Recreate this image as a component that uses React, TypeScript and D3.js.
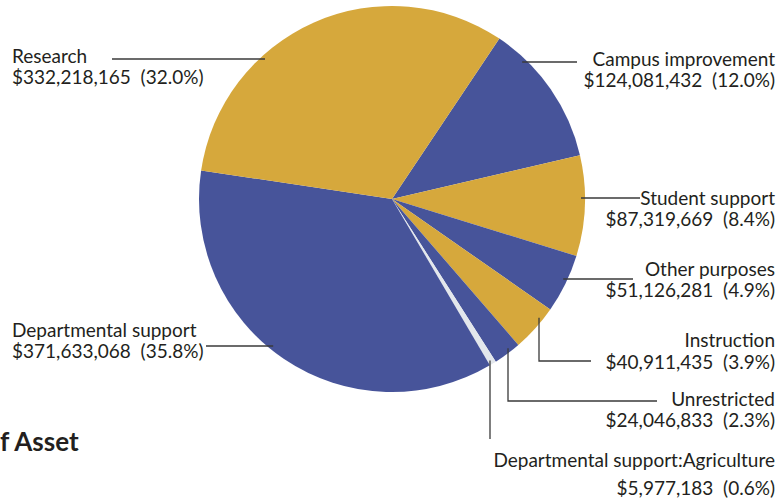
import React from "react";
import * as d3 from "d3";

const categories = [
  "Campus improvement",
  "Student support",
  "Other purposes",
  "Instruction",
  "Unrestricted",
  "Departmental support:Agriculture",
  "Departmental support",
  "Research",
];
const amounts = [124081432, 87319669, 51126281, 40911435, 24046833, 5977183, 371633068, 332218165];
const percents = ["12.0%", "8.4%", "4.9%", "3.9%", "2.3%", "0.6%", "35.8%", "32.0%"];
const sliceColors = ["#47549a", "#d6a83c", "#47549a", "#d6a83c", "#47549a", "#e3e7ec", "#47549a", "#d6a83c"];

type Lab = {
  anchor: "start" | "end";
  x: number;
  y1: number;
  y2: number;
  kind: "h" | "v";
  ly: number;
  lx: number;
  end: number;
  elbow: boolean;
};

const W = 783;
const H = 501;
const cx = 392;
const cy = 199;
const R = 193;

const labels: Lab[] = [
  { anchor: "end", x: 775, y1: 66, y2: 87, kind: "h", ly: 62, lx: 0, end: 577, elbow: false },
  { anchor: "end", x: 775, y1: 205, y2: 226, kind: "h", ly: 198, lx: 0, end: 640, elbow: false },
  { anchor: "end", x: 775, y1: 276, y2: 297, kind: "h", ly: 279, lx: 0, end: 633, elbow: false },
  { anchor: "end", x: 775, y1: 347, y2: 369, kind: "v", ly: 361, lx: 539, end: 591, elbow: true },
  { anchor: "end", x: 775, y1: 406, y2: 427, kind: "v", ly: 401, lx: 508, end: 657, elbow: true },
  { anchor: "end", x: 775, y1: 467, y2: 495, kind: "v", ly: 439, lx: 490, end: 439, elbow: false },
  { anchor: "start", x: 12, y1: 337, y2: 358, kind: "h", ly: 346, lx: 0, end: 206, elbow: false },
  { anchor: "start", x: 12, y1: 63, y2: 84, kind: "h", ly: 59, lx: 0, end: 112, elbow: false },
];

const fmt = d3.format("$,");

export default function App() {
  const startDeg = 33.8;
  const a0 = (startDeg * Math.PI) / 180;
  const pie = d3
    .pie<number>()
    .sort(null)
    .value((d) => d)
    .startAngle(a0)
    .endAngle(a0 + 2 * Math.PI);
  const arcs = pie(amounts);
  const arc = d3.arc<d3.PieArcDatum<number>>().innerRadius(0).outerRadius(R);
  const inset = R - 4;

  const leaderPath = (l: Lab) => {
    if (l.kind === "h") {
      const dy = l.ly - cy;
      const dx = Math.sqrt(Math.max(0, inset * inset - dy * dy));
      const sx = l.anchor === "end" ? cx + dx : cx - dx;
      return d3.line()([
        [sx, l.ly],
        [l.end, l.ly],
      ]);
    }
    const dx = l.lx - cx;
    const sy = cy + Math.sqrt(Math.max(0, inset * inset - dx * dx));
    if (l.elbow) {
      return d3.line()([
        [l.lx, sy],
        [l.lx, l.ly],
        [l.end, l.ly],
      ]);
    }
    return d3.line()([
      [l.lx, sy],
      [l.lx, l.end],
    ]);
  };

  return (
    <svg
      width={W}
      height={H}
      style={{ position: "absolute", left: 0, top: 0, background: "#fff" }}
      fontFamily="Lato, 'Open Sans', sans-serif"
    >
      <g transform={`translate(${cx},${cy})`}>
        {arcs.map((a, i) => (
          <path key={i} d={arc(a) || ""} fill={sliceColors[i]} />
        ))}
      </g>
      {labels.map((l, i) => (
        <path key={"l" + i} d={leaderPath(l) || ""} fill="none" stroke="#3a3a3a" strokeWidth={1.3} />
      ))}
      {labels.map((l, i) => (
        <text key={"t" + i} textAnchor={l.anchor} fill="#231f20" fontSize={19}>
          <tspan x={l.x} y={l.y1}>
            {categories[i]}
          </tspan>
          <tspan x={l.x} y={l.y2} style={{ whiteSpace: "pre" }}>
            {fmt(amounts[i]) + "  (" + percents[i] + ")"}
          </tspan>
        </text>
      ))}
      <text x={0} y={451} textAnchor="start" fontWeight="bold" fontSize={26} fill="#231f20">
        f Asset
      </text>
    </svg>
  );
}
